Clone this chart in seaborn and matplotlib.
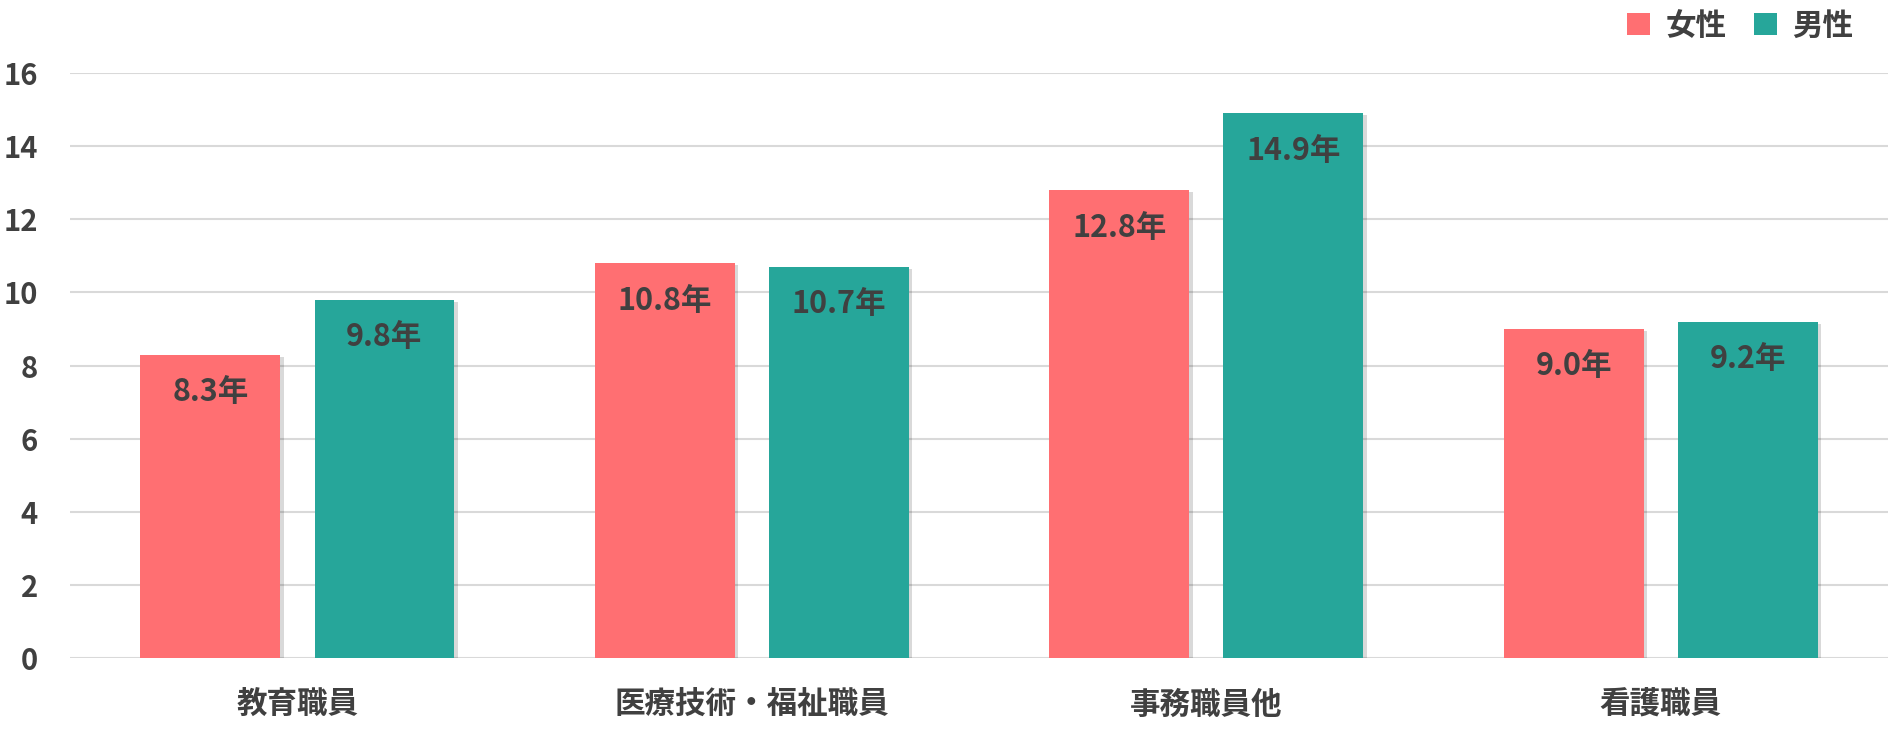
import matplotlib
matplotlib.use("Agg")
import matplotlib.pyplot as plt
import matplotlib.patheffects as pe
import seaborn as sns
import pandas as pd
from matplotlib.patches import Patch

categories = ["教育職員", "医療技術・福祉職員", "事務職員他", "看護職員"]
female = [8.3, 10.8, 12.8, 9.0]
male = [9.8, 10.7, 14.9, 9.2]
series_names = ["女性", "男性"]
colors = ["#FF6F72", "#26A69A"]
yticks = [0, 2, 4, 6, 8, 10, 12, 14, 16]

df = pd.DataFrame({
    "cat": categories * 2,
    "val": female + male,
    "sex": [series_names[0]] * len(categories) + [series_names[1]] * len(categories),
})

sns.set_theme(style="white")
plt.rcParams["font.family"] = ["Noto Sans CJK JP", "DejaVu Sans"]
txt = "#404040"

fig = plt.figure(figsize=(18.88, 7.34), dpi=100)
ax = fig.add_axes([0.0371, 0.1035, 0.9629, 0.797])

sns.barplot(data=df, x="cat", y="val", hue="sex", order=categories,
            hue_order=series_names, palette=colors, width=0.766, gap=0.198,
            saturation=1, ax=ax, legend=False, edgecolor="none")

for cont in ax.containers:
    for bar in cont:
        bar.set_path_effects([pe.SimplePatchShadow(offset=(2.5, -1.5), shadow_rgbFace="black", alpha=0.15), pe.Normal()])
        h = bar.get_height()
        ax.annotate(f"{h:.1f}年", (bar.get_x() + bar.get_width() / 2, h),
                    xytext=(0, -27), textcoords="offset points",
                    ha="center", va="center", fontsize=22, fontweight="bold", color=txt)

ax.set_ylim(0, 16)
ax.set_xlim(-0.5, len(categories) - 0.5)
ax.set_yticks(yticks)
ax.set_yticklabels([str(t) for t in yticks])
ax.yaxis.grid(True, color="#D9D9D9", linewidth=1.5)
ax.set_axisbelow(True)
for s in ax.spines.values():
    s.set_visible(False)
ax.tick_params(axis="both", length=0, labelcolor=txt)
ax.tick_params(axis="y", pad=23, labelsize=21)
ax.tick_params(axis="x", pad=22, labelsize=22)
for lab in ax.get_xticklabels() + ax.get_yticklabels():
    lab.set_fontweight("bold")
ax.set_xlabel("")
ax.set_ylabel("")

handles = [Patch(facecolor=c, edgecolor="none") for c in colors]
leg = fig.legend(handles, series_names, loc="center right", bbox_to_anchor=(0.996, 0.965),
                 ncol=2, frameon=False, handlelength=0.75, handleheight=0.75,
                 handletextpad=0.5, columnspacing=0.9,
                 prop={"size": 22, "weight": "bold"})
for t in leg.get_texts():
    t.set_color(txt)

fig.savefig("out.png", dpi=100)
